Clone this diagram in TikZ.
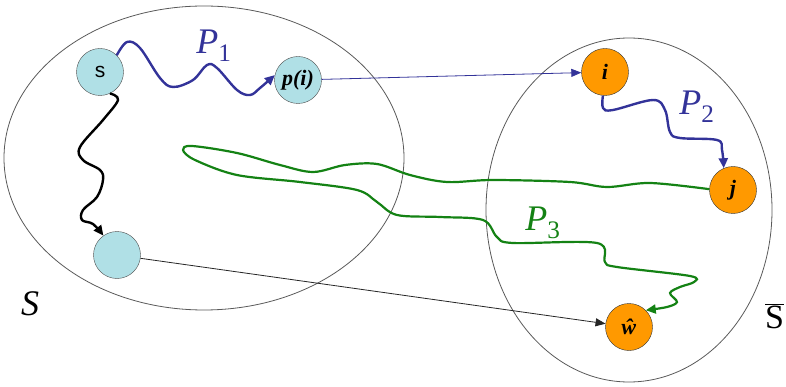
\documentclass[tikz,border=0pt]{standalone}
\usepackage{fontspec}
\setmainfont{Liberation Serif}
\setsansfont{Liberation Sans}
\usetikzlibrary{arrows.meta}

\definecolor{bleuclair}{RGB}{176,224,230}
\definecolor{orange}{RGB}{255,153,0}
\definecolor{bleuchemin}{RGB}{51,51,153}
\definecolor{vertchemin}{RGB}{20,130,20}

\tikzset{
  bnode/.style={circle, draw=black!70, fill=bleuclair, minimum size=47pt, inner sep=0pt},
  onode/.style={circle, draw=black!80, fill=orange, minimum size=47pt, inner sep=0pt,
                font=\fontsize{22}{24}\selectfont\bfseries\itshape},
  chemin/.style={line width=2.4pt, -{Triangle[length=10pt,width=9pt]}},
  lien/.style={line width=0.8pt, -{Triangle[length=10pt,width=8pt]}},
  etiq/.style={font=\fontsize{36}{40}\selectfont\itshape}
}

\begin{document}
\begin{tikzpicture}[x=1pt, y=-1pt]
    \useasboundingbox (0,0) rectangle (786,387);

    % Ensembles S et S-barre
    \draw [black!65, line width=0.8pt] (204,158) ellipse [x radius=200, y radius=152];
    \draw [black!65, line width=0.8pt] (629,210) ellipse [x radius=143, y radius=172];
    \node [etiq] (labS) at (30,304) {S};
    \node [font=\fontsize{34}{40}\selectfont, anchor=west, inner sep=0pt] (labSb) at (765,316) {$\overline{\mbox{S}}$};

    % Sommets
    \node [bnode, font=\fontsize{21}{24}\selectfont\sffamily] (s) at (100,72) {s};
    \node [bnode, font=\fontsize{22}{24}\selectfont\bfseries\itshape] (pi) at (298,80) {p(i)};
    \node [bnode] (u) at (117,255) {};
    \node [onode] (i) at (605,72) {i};
    \node [onode] (j) at (733,190) {j};
    \node [onode] (w) at (629,327) {ŵ};

    % Chemins P1, P2, P3
    \draw [chemin, bleuchemin] plot [smooth, tension=0.6] coordinates {(s.45) (127,42) (140,48)
        (160,78) (173,87) (193,80) (207,65) (217,68) (237,90) (250,95) (260,88) (pi.168)};
    \draw [chemin, bleuchemin] plot [smooth, tension=0.6] coordinates {(i.-95) (603,108) (613,110)
        (653,100) (665,110) (670,132) (680,138) (717,140) (722,150) (j.113)};
    \draw [chemin, vertchemin, line width=2.2pt] plot [smooth, tension=0.55] coordinates {(j.178)
        (650,183) (607,187) (570,182) (493,180) (447,182) (410,175) (377,164) (345,165)
        (313,172) (280,165) (237,153) (192,146) (183,150) (195,160) (237,175) (300,182)
        (357,190) (377,202) (397,215) (440,217) (483,220) (497,237) (513,243) (597,243)
        (605,262) (617,267) (690,276) (694,282) (680,287) (670,293) (677,302) (667,307) (w.45)};
    \draw [chemin, black] plot [smooth, tension=0.6] coordinates {(s.-65) (118,100) (103,120)
        (80,147) (83,160) (100,170) (103,180) (97,197) (83,210) (82,220) (93,224) (u.125)};

    % Liens directs
    \draw [lien, bleuchemin] (pi) -- (i);
    \draw [lien, black!85] (u) -- (w);

    % Etiquettes des chemins
    \node [etiq, bleuchemin] (lab1) at (214,46) {P\textsubscript{\upshape 1}};
    \node [etiq, bleuchemin] (lab2) at (697,107) {P\textsubscript{\upshape 2}};
    \node [etiq, vertchemin] (lab3) at (543,223) {P\textsubscript{\upshape 3}};
\end{tikzpicture}
\end{document}
